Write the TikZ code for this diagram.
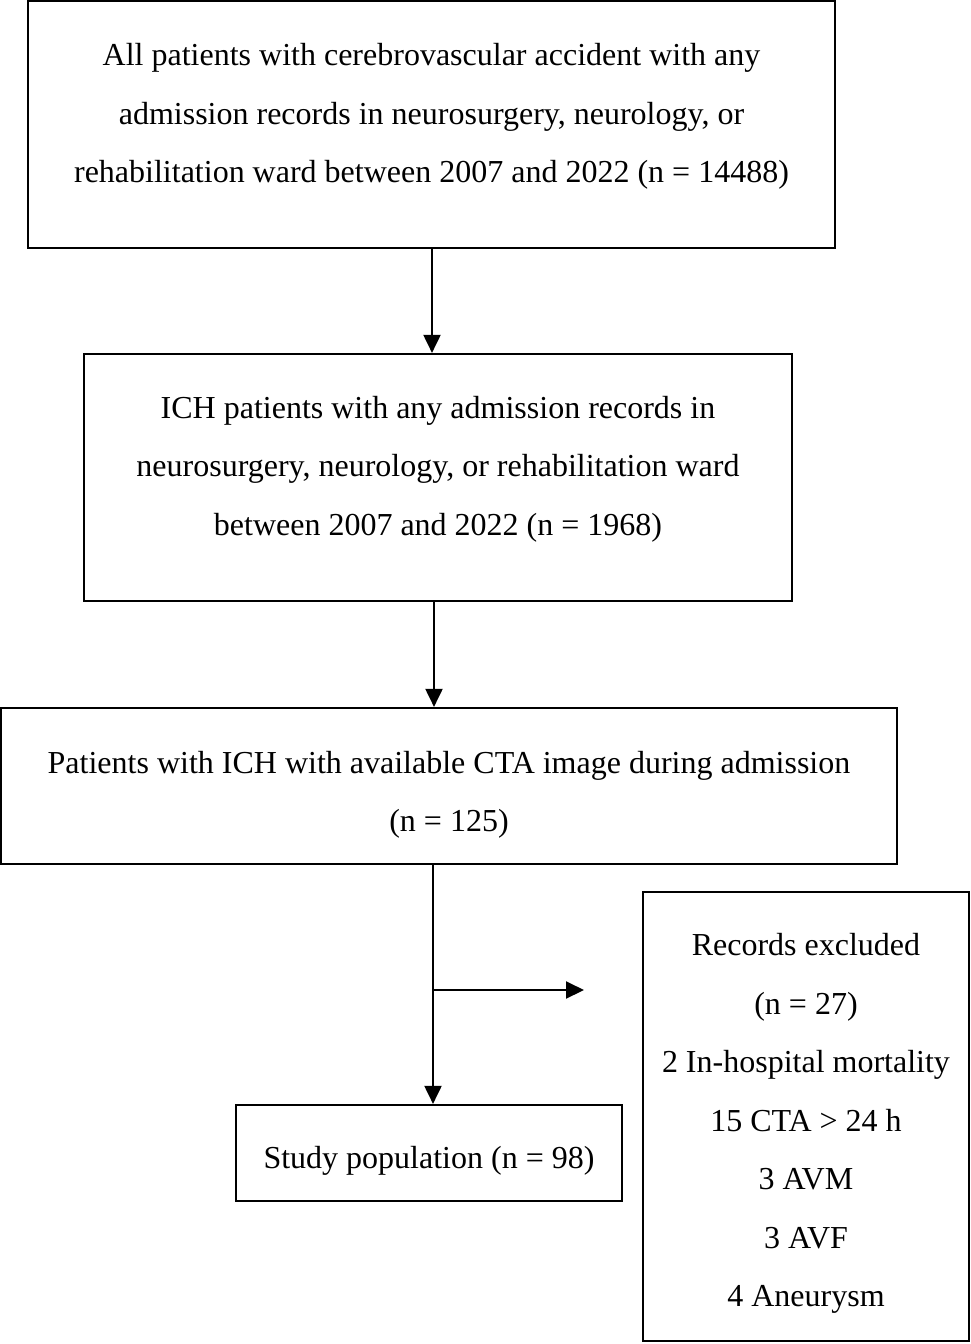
\documentclass[tikz,border=0pt]{standalone}
\usepackage{fontspec}
\setmainfont{Liberation Serif}
\usetikzlibrary{arrows.meta,calc}
\begin{document}
\begin{tikzpicture}[x=1pt,y=-1pt,
  box/.style={draw=black,line width=2.2pt,rectangle,inner sep=0pt},
  txt/.style={align=center,inner sep=0pt,font=\fontsize{32}{58.5}\selectfont},
  arr/.style={line width=2pt,-{Triangle[length=18pt,width=17pt]}},
  ln/.style={line width=2pt}]
\useasboundingbox (0,0) rectangle (971,1344);
% boxes
\node[box,minimum width=807,minimum height=247] (b1) at (431.5,124.5) {};
\node[box,minimum width=708,minimum height=247] (b2) at (438,477.5) {};
\node[box,minimum width=896,minimum height=156] (b3) at (449,786) {};
\node[box,minimum width=386,minimum height=96] (b4) at (429,1153) {};
\node[box,minimum width=326,minimum height=449] (b5) at (806,1116.5) {};
% texts
\node[txt] (t1) at (431.5,116.5) {All patients with cerebrovascular accident with any\\admission records in neurosurgery, neurology, or\\rehabilitation ward between 2007 and 2022 (n = 14488)};
\node[txt] (t2) at (438,469) {ICH patients with any admission records in\\neurosurgery, neurology, or rehabilitation ward\\between 2007 and 2022 (n = 1968)};
\node[txt] (t3) at (449,795) {Patients with ICH with available CTA image during admission\\(n = 125)};
\node[txt] (t4) at (429,1161) {Study population (n = 98)};
\node[txt] (t5) at (806,1123.5) {Records excluded\\(n = 27)\\2 In-hospital mortality\\15 CTA > 24 h\\3 AVM\\3 AVF\\4 Aneurysm};
% connectors
\draw[arr] ([xshift=0.5pt]b1.south) -- ([xshift=0.5pt]b1.south |- b2.north);
\draw[arr] ([xshift=-4pt]b2.south) -- ([xshift=-4pt]b2.south |- b3.north);
\coordinate (br) at ([xshift=4pt]b4.north |- 0,990);
\coordinate (brend) at (584,990);
\draw[arr] ([xshift=4pt]b4.north |- b3.south) -- ([xshift=4pt]b4.north);
\draw[arr] (br) -- (brend);
\end{tikzpicture}
\end{document}
